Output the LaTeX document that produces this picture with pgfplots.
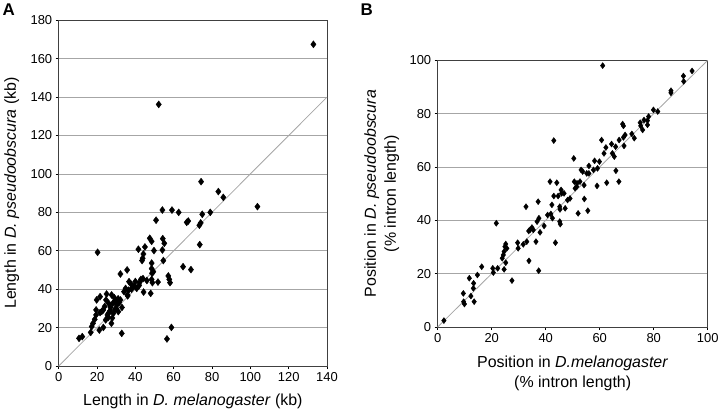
\documentclass[border=0pt]{standalone}
\usepackage{pgfplots}
\pgfplotsset{compat=1.18}
\usepackage{fontspec}
\setmainfont{Liberation Sans}
\definecolor{gridgray}{HTML}{A6A6A6}
\definecolor{framegray}{HTML}{404040}
\pgfplotsset{
  myax/.style={
    scale only axis,
    axis line style={framegray, line width=0.8bp},
    tick align=outside,
    tick pos=left,
    major tick length=3bp,
    tick style={black, line width=0.7bp},
    ymajorgrids,
    major grid style={gridgray, line width=0.8bp},
    /pgf/number format/assume math mode=true,
    ticklabel style={font=\fontsize{13}{15}\selectfont},
    label style={font=\fontsize{16}{20}\selectfont},
    clip=false,
  },
  pts/.style={only marks, mark=diamond*, mark size=3.5bp, black, mark options={fill=black}},
}
\begin{document}
\begin{tikzpicture}
\path[use as bounding box] (0,0) rectangle (720bp,-412bp);
\node[anchor=base west, inner sep=0, font=\fontsize{17}{19}\selectfont\bfseries] at (2.5bp,-15.5bp) {A};
\node[anchor=base west, inner sep=0, font=\fontsize{17}{19}\selectfont\bfseries] at (360.5bp,-15.5bp) {B};
\begin{axis}[myax,
  at={(58.7bp,-366bp)}, anchor=south west,
  width=268.3bp, height=345.7bp,
  xmin=0, xmax=140, ymin=0, ymax=180,
  xtick={0,20,...,140}, ytick={0,20,...,180},
  xlabel={Length in \textit{D. melanogaster} (kb)},
  ylabel={Length in \textit{D. pseudoobscura} (kb)},
  xlabel style={at={(axis description cs:0.5,0)}, anchor=center, yshift=-35bp},
  ylabel style={at={(axis description cs:0,0.5)}, anchor=center, yshift=47bp},
]
\addplot[gridgray, line width=0.8bp, no markers] coordinates {(0,0) (140,140)};
\addplot[pts] table {
x y
132.9 167.5
52.2 136.2
74.3 96
83.3 90.8
85.9 87.8
103.7 83
79.1 80
74.9 79
54.1 81.2
59.1 81.2
62.6 80
67.6 75.5
66.8 74.8
74.1 74.5
73.4 73.3
50.8 75.9
73.6 63.2
47.5 66.5
48.5 64.9
54.3 66.3
55.1 63.9
54.1 60.4
49.7 60.1
45 62
41.6 60.8
44.2 58.3
43.8 56.1
43.5 54.9
54.6 54.9
20.3 59.2
64.9 51.7
69 50.2
35.7 50
48.5 53.6
48.5 50.7
49.4 49.1
48.7 48.3
32.2 47.9
57.2 46.9
57.7 45.1
58.1 43.4
51.8 43.7
48.5 45.1
48.9 43.4
42.9 45.1
42.1 43.4
36.7 43.9
37.7 42.7
39.5 41.8
40.7 40.4
34.9 40.4
34.1 38.7
44.3 38.5
48 37.8
35.9 37
32.2 34.4
29 35.6
27.6 37
25 37.5
21.6 36.1
19.8 34.4
24.7 34.4
26.1 32.6
28.2 32.6
30.3 31.8
29.4 29.5
31.1 28.3
26.8 28.8
23.3 29.2
19.5 29.2
21.6 27.8
25.4 26.6
28.5 27.4
25.9 25.3
19.5 26.6
18.8 24.3
17.9 22.2
27.5 22.2
17.2 20.5
16.7 17.5
21.2 18.7
23.3 20.1
32.9 17
58.8 20.1
56.5 14.1
12.3 15.3
10.6 14.4
36.5 39.5
38.5 41
31.5 33
33 30.5
30 30
27 30.5
24 31
22.5 28.5
29.5 34
26 27.5
31 35
28 25
24.5 24
36 36.5
42 42
46 44.5
44 45.5
38 40
40 44
};
\end{axis}
\begin{axis}[myax,
  at={(437.7bp,-327bp)}, anchor=south west,
  width=270bp, height=266.7bp,
  xmin=0, xmax=100, ymin=0, ymax=100,
  xtick={0,20,...,100}, ytick={0,20,...,100},
  xlabel={Position in \textit{D.melanogaster}\\(\% intron length)},
  ylabel={Position in \textit{D. pseudoobscura}\\(\% intron length)},
  xlabel style={at={(axis description cs:0.5,0)}, anchor=center, align=center, yshift=-46.5bp},
  ylabel style={at={(axis description cs:0,0.5)}, anchor=center, align=center, yshift=56bp},
]
\addplot[gridgray, line width=0.8bp, no markers] coordinates {(0,0) (100,100)};
\addplot[pts, mark size=3bp] table {
x y
2.3 2.4
9.5 12.6
9.6 9.5
9.9 8.6
11.7 18.3
12.3 11.6
13.2 14.5
13.3 16.4
13.5 9.5
14.7 19.5
16.3 22.6
20.4 22
20.6 20.4
22.2 22
21.7 38.9
24.6 21.6
25.2 24.1
23.9 25.8
24.3 27
24.6 28.3
24.9 30.1
25.2 31.1
25.6 29.5
27.5 17.4
29.6 31.6
29.8 29.5
31.7 31
33 32
33.7 36
34.2 36.4
32.7 45.1
33.8 24.8
34.9 37.3
35.4 36.4
36.4 32
37.2 47
37.4 21.1
36.8 39.5
37.5 40.8
37.9 35.5
39.4 37.9
40.7 42
41.6 54.5
41.9 42.4
42.5 40.8
42.3 45.8
43 49.1
43 69.9
43.6 31.6
44.1 54.1
44.6 49.1
45.2 45.1
45.3 44.1
45.2 39.5
45.4 38.6
45.7 51.4
45.9 50.1
46.8 50.1
47.2 44.5
48.1 47.6
49 48.2
50.4 63.2
50.6 54.5
50.9 52
51.5 52.6
51.6 53.9
52 42.6
52.7 54.5
53.1 58.9
53.7 58.3
54.2 53.2
54.3 48
55.2 57.6
55.6 43.6
56 60.4
56 57.6
57.7 58.9
58.1 62.3
59.0 52.9
59.2 59.5
59.9 62
60.7 70.1
61.1 98
61.6 65.1
62.6 54.1
62.3 67.3
64.4 68.6
64.7 65.1
65.4 63.9
65.9 67.6
66 58.6
67.1 54.5
67.2 70.1
68.5 76.1
68.8 75.4
68.8 71.1
69 67.9
69.4 72
71.9 72.4
72.8 70.8
75 76.6
75.2 75.4
75.9 73.9
76.4 77.6
77.7 77.4
77.7 75.8
78.1 78.9
79.9 81.4
81.5 80.8
86.4 88.6
86.4 87.8
91 94.1
91.1 92.1
94.2 96
};
\end{axis}
\end{tikzpicture}
\end{document}
